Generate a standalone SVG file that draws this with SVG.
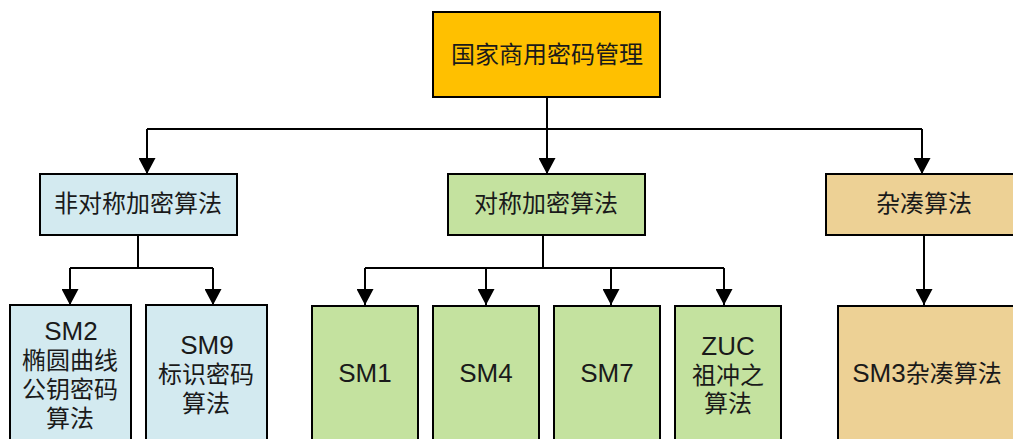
<svg xmlns="http://www.w3.org/2000/svg" width="1013" height="439" viewBox="0 0 1013 439">
<style>
.box{stroke:#000;stroke-width:2}
.top{fill:#FFC000}
.blue{fill:#D3EAF0}
.green{fill:#C4E29F}
.tan{fill:#EDD195}
text{font-family:"Liberation Sans","Noto Sans CJK SC",sans-serif;font-size:24px;fill:#1a1a1a;text-anchor:middle}
.lat{font-size:26px}
.conn{fill:none;stroke:#000;stroke-width:2}
</style>
<defs>
<marker id="arr" markerUnits="userSpaceOnUse" markerWidth="17" markerHeight="17" refX="16" refY="8.5" orient="auto">
<path d="M0,0 L16,8.5 L0,17 Z" fill="#000"/>
</marker>
</defs>
<rect width="1013" height="439" fill="#fff"/>
<g id="connectors">
<path class="conn" d="M547 97 V129"/>
<path class="conn" d="M147 129 H922"/>
<path class="conn" d="M147 129 V174" marker-end="url(#arr)"/>
<path class="conn" d="M547 129 V174" marker-end="url(#arr)"/>
<path class="conn" d="M922 129 V174" marker-end="url(#arr)"/>
<path class="conn" d="M138 235 V268 M70 268 H213"/>
<path class="conn" d="M70 268 V305" marker-end="url(#arr)"/>
<path class="conn" d="M213 268 V305" marker-end="url(#arr)"/>
<path class="conn" d="M543 235 V268 M365 268 H724"/>
<path class="conn" d="M365 268 V305" marker-end="url(#arr)"/>
<path class="conn" d="M486 268 V305" marker-end="url(#arr)"/>
<path class="conn" d="M611 268 V305" marker-end="url(#arr)"/>
<path class="conn" d="M724 268 V305" marker-end="url(#arr)"/>
<path class="conn" d="M924 235 V305" marker-end="url(#arr)"/>
</g>
<g id="root"><rect class="box top" x="433" y="12" width="227" height="85"/><text x="547" y="63">国家商用密码管理</text></g>
<g id="asym"><rect class="box blue" x="40" y="174" width="197" height="61"/><text x="138" y="212">非对称加密算法</text></g>
<g id="sym"><rect class="box green" x="448" y="174" width="197" height="61"/><text x="546" y="212">对称加密算法</text></g>
<g id="hash"><rect class="box tan" x="826" y="174" width="200" height="61"/><text x="924" y="212">杂凑算法</text></g>
<g id="sm2"><rect class="box blue" x="10" y="305" width="121" height="145"/>
<text class="lat" x="71" y="340">SM2</text><text x="70" y="369">椭圆曲线</text><text x="70" y="398">公钥密码</text><text x="70" y="427">算法</text></g>
<g id="sm9"><rect class="box blue" x="146" y="305" width="121" height="145"/>
<text class="lat" x="207" y="354">SM9</text><text x="206" y="383">标识密码</text><text x="206" y="412">算法</text></g>
<g id="sm1"><rect class="box green" x="312" y="306" width="106" height="144"/><text class="lat" x="365" y="382">SM1</text></g>
<g id="sm4"><rect class="box green" x="433" y="306" width="106" height="144"/><text class="lat" x="486" y="382">SM4</text></g>
<g id="sm7"><rect class="box green" x="554" y="306" width="106" height="144"/><text class="lat" x="607" y="382">SM7</text></g>
<g id="zuc"><rect class="box green" x="675" y="306" width="106" height="144"/>
<text class="lat" x="728" y="355">ZUC</text><text x="728" y="384">祖冲之</text><text x="728" y="412">算法</text></g>
<g id="sm3"><rect class="box tan" x="838" y="306" width="180" height="144"/><text x="927" y="382"><tspan class="lat">SM3</tspan>杂凑算法</text></g>
</svg>
